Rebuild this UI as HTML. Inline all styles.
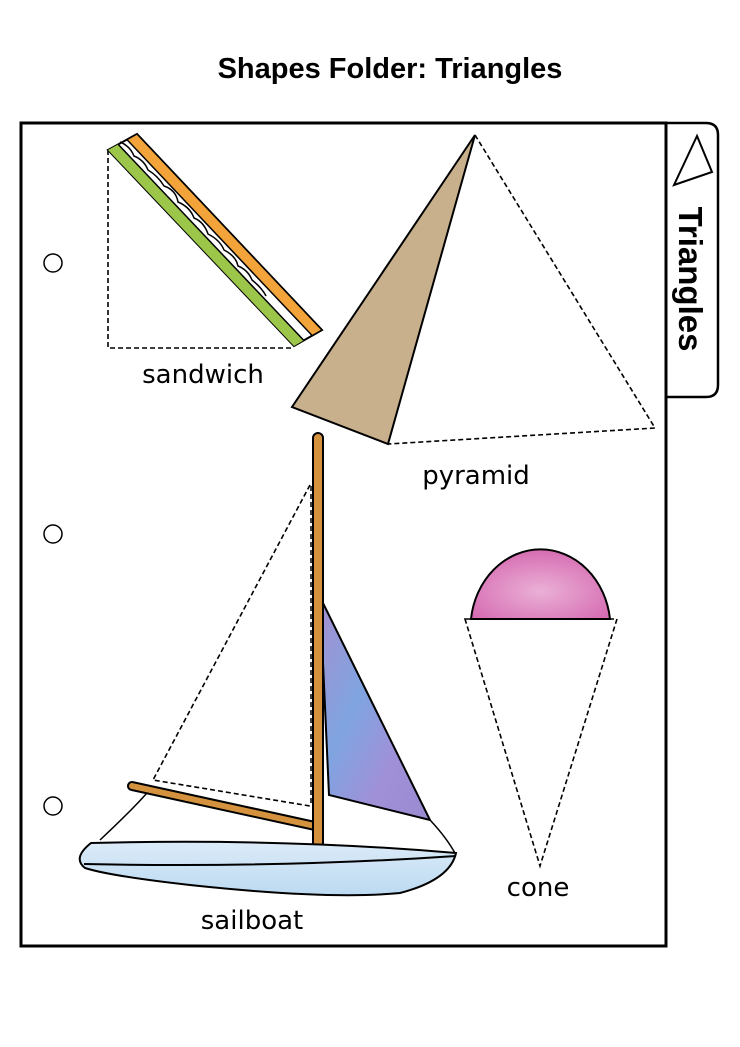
<!DOCTYPE html>
<html><head><meta charset="utf-8"><style>
html,body{margin:0;padding:0;background:#fff;}
svg{display:block;}
</style></head><body>
<svg width="740" height="1047" viewBox="0 0 740 1047" xmlns="http://www.w3.org/2000/svg">
<defs>
<linearGradient id="sail" x1="0" y1="0" x2="1" y2="1">
<stop offset="0" stop-color="#a48fd0"/><stop offset="0.4" stop-color="#7fa4e0"/><stop offset="0.7" stop-color="#a090d8"/><stop offset="1" stop-color="#9a8ad0"/></linearGradient>
<radialGradient id="pink" cx="0.5" cy="0.6" r="0.6"><stop offset="0" stop-color="#eab0d6"/><stop offset="1" stop-color="#d66cb2"/></radialGradient>
<linearGradient id="hull" x1="0" y1="0" x2="0" y2="1"><stop offset="0" stop-color="#dcebf8"/><stop offset="1" stop-color="#bcdaf2"/></linearGradient>
</defs>
<text x="390" y="78" text-anchor="middle" font-family="Liberation Sans, sans-serif" font-weight="bold" font-size="29">Shapes Folder: Triangles</text>
<!-- tab -->
<path d="M666 123 H706 Q718 123 718 135 V385 Q718 397 706 397 H666" fill="#fff" stroke="#000" stroke-width="2.5"/>
<polygon points="697,136 674,185 712,172" fill="#fff" stroke="#000" stroke-width="2"/>
<text transform="translate(679,279) rotate(90)" text-anchor="middle" font-family="Liberation Sans, sans-serif" font-weight="bold" font-size="33">Triangles</text>
<rect x="21" y="123" width="645" height="823" fill="none" stroke="#000" stroke-width="3"/>
<circle cx="53" cy="263" r="9" fill="#fff" stroke="#000" stroke-width="1.5"/>
<circle cx="53" cy="534" r="9" fill="#fff" stroke="#000" stroke-width="1.5"/>
<circle cx="53" cy="806" r="9" fill="#fff" stroke="#000" stroke-width="1.5"/>
<!-- sandwich -->
<polyline points="108,150 108,348 293,348" fill="none" stroke="#000" stroke-width="1.6" stroke-dasharray="5,3"/>
<polygon points="108,150 137,134 322,330 294,346" fill="#fff" stroke="#000" stroke-width="2"/>
<polygon points="108,150 118.2,144.4 303.8,340.4 294,346" fill="#9cc64a"/>
<polygon points="126.9,139.6 137,134 322,330 312.2,335.6" fill="#f2a43a" stroke="#000" stroke-width="1.5"/>
<line x1="118.2" y1="144.4" x2="303.8" y2="340.4" stroke="#000" stroke-width="1.5"/>
<path d="M120,142 q10,4 14,14 q10,4 14,14 q10,6 16,16 q12,4 14,16 q12,5 16,16 q10,4 14,16 q12,6 16,16 q12,6 14,16 q10,4 14,14 q10,8 14,16" fill="none" stroke="#000" stroke-width="1.5"/>
<text x="203" y="383" text-anchor="middle" font-family="DejaVu Sans, sans-serif" font-size="26">sandwich</text>
<!-- pyramid -->
<polyline points="475,135 655,428 388,444" fill="none" stroke="#000" stroke-width="1.6" stroke-dasharray="5,3"/>
<polygon points="475,135 292,407 388,444" fill="#c8b08c" stroke="#000" stroke-width="2"/>
<text x="476" y="484" text-anchor="middle" font-family="DejaVu Sans, sans-serif" font-size="26">pyramid</text>
<!-- cone -->
<path d="M471,619 A70,79 0 0 1 610,619 Z" fill="url(#pink)" stroke="#000" stroke-width="2"/>
<polygon points="465,619 617,619 540,866" fill="none" stroke="#000" stroke-width="1.6" stroke-dasharray="5,3"/>
<text x="538" y="896" text-anchor="middle" font-family="DejaVu Sans, sans-serif" font-size="26">cone</text>
<!-- sailboat -->
<polyline points="310,485 153,780 310,806" fill="none" stroke="#000" stroke-width="1.6" stroke-dasharray="5,3"/>
<line x1="311" y1="486" x2="311" y2="806" stroke="#000" stroke-width="1.5" stroke-dasharray="5,3"/>
<polygon points="320,597 329,795 430,820" fill="url(#sail)" stroke="#000" stroke-width="2"/>
<path d="M430,820 Q447,838 456,855" fill="none" stroke="#000" stroke-width="1.5"/>
<path d="M100,840 Q130,812 147,793" fill="none" stroke="#000" stroke-width="1.5"/>
<line x1="132" y1="786" x2="315" y2="826" stroke="#000" stroke-width="10" stroke-linecap="round"/>
<line x1="132" y1="786" x2="315" y2="826" stroke="#d4923e" stroke-width="6" stroke-linecap="round"/>
<rect x="313" y="433" width="10" height="416" rx="5" fill="#d4923e" stroke="#000" stroke-width="2"/>
<path d="M91,843 Q280,838 456,853 Q450,880 400,893 Q330,900 190,885 Q110,876 85,868 Q72,858 91,843 Z" fill="url(#hull)" stroke="#000" stroke-width="2"/>
<path d="M84,864 Q280,868 456,856" fill="none" stroke="#000" stroke-width="2"/>
<text x="252" y="929" text-anchor="middle" font-family="DejaVu Sans, sans-serif" font-size="26">sailboat</text>
</svg>
</body></html>
